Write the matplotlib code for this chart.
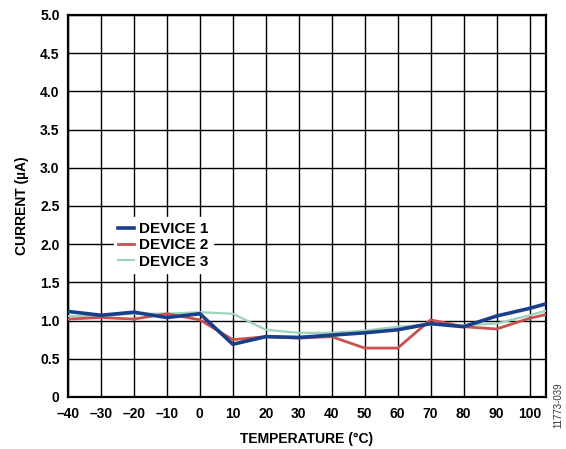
import matplotlib
matplotlib.use("Agg")
import matplotlib.pyplot as plt

plt.rcParams['font.family'] = ['Liberation Sans', 'DejaVu Sans']

temps = [-40, -30, -20, -10, 0, 10, 20, 30, 40, 50, 60, 70, 80, 90, 100, 105]
device1 = [1.12, 1.07, 1.11, 1.04, 1.09, 0.69, 0.79, 0.78, 0.81, 0.84, 0.88, 0.96, 0.92, 1.06, 1.16, 1.22]
device2 = [1.02, 1.04, 1.02, 1.09, 1.01, 0.75, 0.79, 0.77, 0.79, 0.64, 0.64, 1.01, 0.92, 0.89, 1.03, 1.08]
device3 = [1.06, 1.06, 1.09, 1.09, 1.11, 1.09, 0.88, 0.84, 0.84, 0.87, 0.92, 0.95, 0.94, 0.96, 1.07, 1.13]
series_names = ["DEVICE 1", "DEVICE 2", "DEVICE 3"]
xticks = list(range(-40, 101, 10))
yticks = [0, 0.5, 1.0, 1.5, 2.0, 2.5, 3.0, 3.5, 4.0, 4.5, 5.0]

fig = plt.figure(figsize=(5.66, 4.49), dpi=100)
W, H = 566, 449
ax = fig.add_axes([68 / W, 1 - 397 / H, (546 - 68) / W, (397 - 15) / H])

ax.plot(temps, device1, color="#1a3f8a", lw=2.6, label=series_names[0], zorder=5)
ax.plot(temps, device2, color="#c9524f", lw=2.0, label=series_names[1], zorder=4)
ax.plot(temps, device3, color="#9fd3bb", lw=1.6, label=series_names[2], zorder=3)

ax.set_xlim(-40, 105)
ax.set_ylim(0, 5)
ax.set_xticks(xticks)
ax.set_xticklabels([("\u2013" + str(-t)) if t < 0 else str(t) for t in xticks])
ax.set_yticks(yticks)
ax.set_yticklabels([f"{v:.1f}" if v != 0 else "0" for v in yticks])
ax.grid(True, color="black", lw=1.0)
ax.set_axisbelow(True)
ax.tick_params(length=0, labelsize=10)
ax.tick_params(axis="x", pad=7)
ax.tick_params(axis="y", pad=6)
for lab in ax.get_xticklabels() + ax.get_yticklabels():
    lab.set_fontweight("bold")
for s in ax.spines.values():
    s.set_linewidth(1.6)
    s.set_color("black")

ax.set_xlabel("TEMPERATURE (°C)", fontsize=10, fontweight="bold", labelpad=8)
ax.set_ylabel("CURRENT (µA)", fontsize=10, fontweight="bold", labelpad=8)

leg = ax.legend(loc="upper left", bbox_to_anchor=(0.08, 0.49), frameon=True,
                handlelength=1.0, handletextpad=0.35, labelspacing=0.15,
                borderpad=0.3, prop={"weight": "bold", "size": 11})
leg.get_frame().set_facecolor("white")
leg.get_frame().set_edgecolor("white")
leg.get_frame().set_alpha(1)
leg.set_zorder(10)

fig.text(558 / W, 1 - 405 / H, "11773-039", rotation=90, fontsize=7,
         ha="center", va="center", color="#333333")

fig.savefig("out.png", dpi=100)
